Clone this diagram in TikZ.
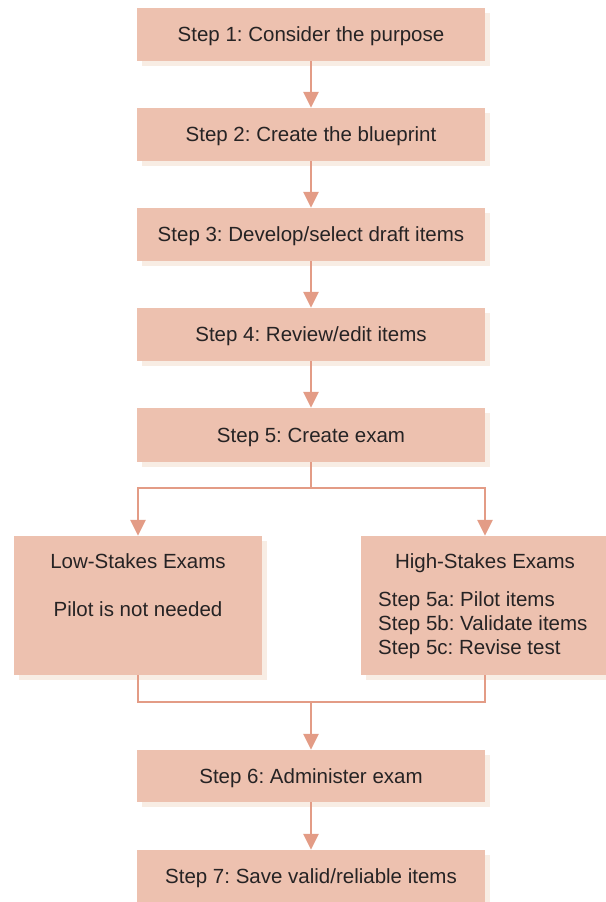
\documentclass[tikz,border=0pt]{standalone}
\usepackage{fontspec}
\setmainfont{Liberation Sans}
\frenchspacing
\usetikzlibrary{arrows.meta,shadows}
\definecolor{boxfill}{HTML}{EDC1AF}
\definecolor{shadowc}{HTML}{F8EDE4}
\definecolor{linec}{HTML}{E39C86}
\definecolor{textc}{HTML}{262324}
\tikzset{
  stepbox/.style={rectangle, fill=boxfill, draw=none, inner sep=0pt,
    minimum width=348pt, minimum height=53pt, text=textc,
    font=\fontsize{20.5}{24.5}\selectfont, text height=14.7pt, text depth=0pt,
    drop shadow={shadow xshift=5pt, shadow yshift=-5pt, fill=shadowc, opacity=1}},
  bigbox/.style={rectangle, fill=boxfill, draw=none, inner sep=0pt,
    minimum width=248pt, minimum height=139pt,
    drop shadow={shadow xshift=5pt, shadow yshift=-5pt, fill=shadowc, opacity=1}},
  lbl/.style={anchor=base, inner sep=0pt, text=textc, font=\fontsize{20.5}{24.5}\selectfont},
  conn/.style={draw=linec, line width=2.6pt},
  arr/.style={conn, -{Triangle[width=15pt,length=16pt]}},
}
\begin{document}
\begin{tikzpicture}[x=1pt,y=-1pt]
\useasboundingbox (0,0) rectangle (605,902);
\node[stepbox] (s1) at (311,34.5) {Step 1: Consider the purpose};
\node[stepbox] (s2) at (311,134.5) {Step 2: Create the blueprint};
\node[stepbox] (s3) at (311,234.5) {Step 3: Develop/select draft items};
\node[stepbox] (s4) at (311,334.5) {Step 4: Review/edit items};
\node[stepbox, minimum height=54pt] (s5) at (311,435) {Step 5: Create exam};
\node[bigbox] (low) at (138,605.5) {};
\node[bigbox] (high) at (485,605.5) {};
\node[lbl] (lowt) at (138,568) {Low-Stakes Exams};
\node[lbl] (lowp) at (138,616) {Pilot is not needed};
\node[lbl] (hight) at (485,568) {High-Stakes Exams};
\node[lbl, anchor=base west] (h1) at (378,606) {Step 5a: Pilot items};
\node[lbl, anchor=base west] (h2) at (378,630) {Step 5b: Validate items};
\node[lbl, anchor=base west] (h3) at (378,654) {Step 5c: Revise test};
\node[stepbox, minimum height=52pt] (s6) at (311,776) {Step 6: Administer exam};
\node[stepbox] (s7) at (311,876.5) {Step 7: Save valid/reliable items};
\coordinate (br) at (311,488);
\coordinate (mg) at (311,702);
\draw[arr] (s1) -- (s2);
\draw[arr] (s2) -- (s3);
\draw[arr] (s3) -- (s4);
\draw[arr] (s4) -- (s5);
\draw[conn] (s5) -- (br);
\draw[arr] (br) -| (low.north);
\draw[arr] (br) -| (high.north);
\draw[conn] (low.south) |- (mg) -| (high.south);
\draw[arr] (mg) -- (s6);
\draw[arr] (s6) -- (s7);
\end{tikzpicture}
\end{document}
